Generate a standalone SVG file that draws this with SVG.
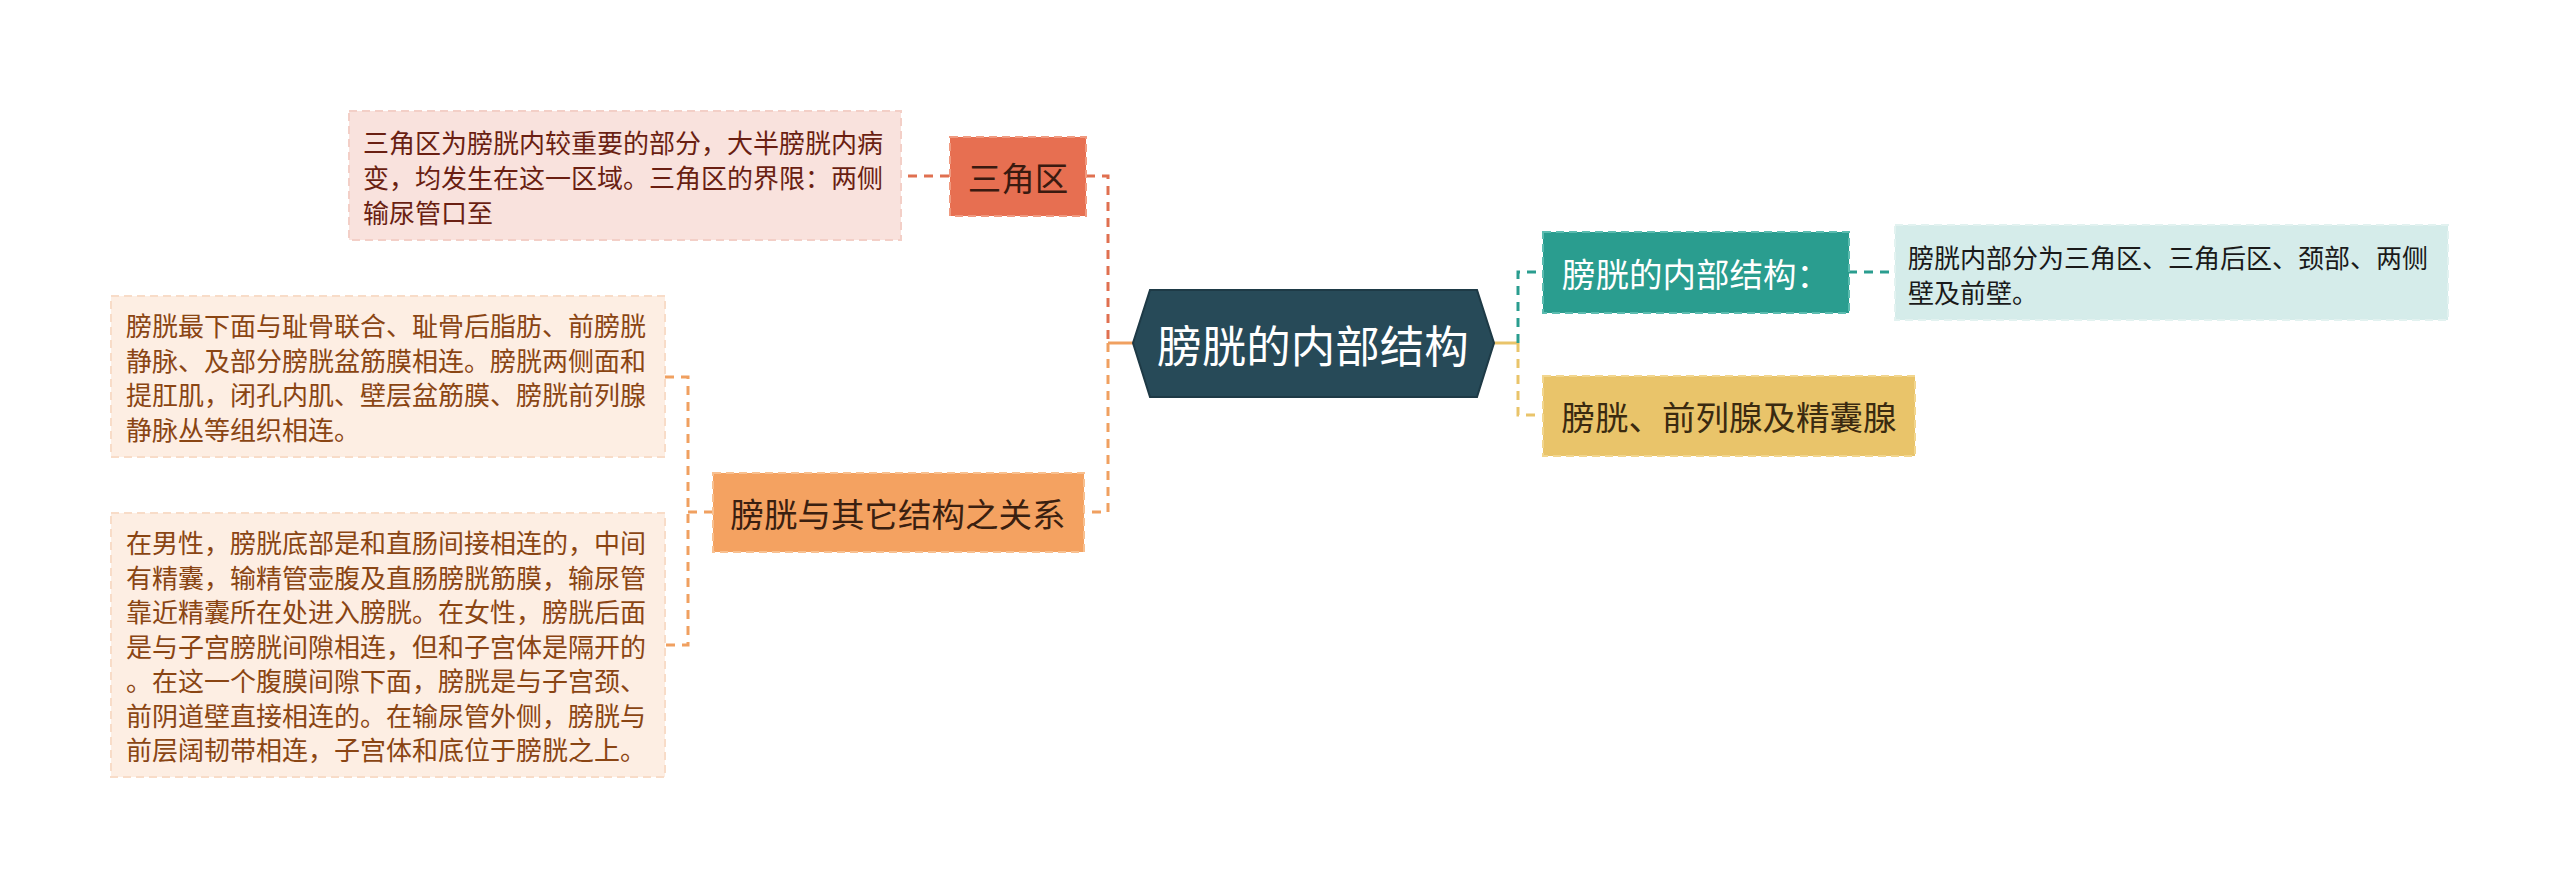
<svg xmlns="http://www.w3.org/2000/svg" width="2560" height="889" viewBox="0 0 2560 889">
<style>
text{font-family:"Noto Sans CJK SC","Noto Sans",sans-serif}
.lbl{font-size:33.5px;text-anchor:middle;dominant-baseline:central}
.desc{font-size:26px;dominant-baseline:central}
.c{fill:none;stroke-width:3;stroke-dasharray:9 7}
.bd{stroke-width:2;stroke-dasharray:8 5}
</style>
<rect width="2560" height="889" fill="#ffffff"/>
<g id="connectors">
<path class="c" stroke="#e07050" d="M1086,176 H1108 V343"/>
<path class="c" stroke="#e07050" d="M949,176 H901"/>
<path class="c" stroke="#f0a060" d="M1108,343 V512 H1084"/>
<path fill="none" stroke="#f0a060" stroke-width="3" d="M1108,343 H1133"/>
<path class="c" stroke="#f0a060" d="M713,512 H688"/>
<path class="c" stroke="#f0a060" d="M665,377 H688 V645 H665"/>
<path fill="none" stroke="#e9c46a" stroke-width="3" d="M1494,343 H1518"/>
<path class="c" stroke="#2a9d8f" d="M1518,343 V272 H1543"/>
<path class="c" stroke="#e9c46a" d="M1518,343 V415 H1543"/>
<path class="c" stroke="#2a9d8f" d="M1848,272 H1895"/>
</g>
<g id="root">
<polygon points="1133,343 1150,290 1477,290 1494,343 1477,397 1150,397" fill="#274a58" stroke="#1e3a46" stroke-width="2"/>
<text x="1313" y="343" font-size="44.5" fill="#ffffff" text-anchor="middle" dominant-baseline="central">膀胱的内部结构</text>
</g>
<g id="n-sanjiaoqu">
<rect class="bd" x="950" y="137" width="136" height="79" fill="#e76f51" stroke="#f09a80"/>
<text class="lbl" x="1018" y="176" fill="#3a1a10">三角区</text>
</g>
<g id="d-sanjiaoqu">
<rect class="bd" x="349" y="111" width="552" height="129" fill="#f9e2dd" stroke="#f3cfc7"/>
<text class="desc" fill="#6a1f12"><tspan x="363" y="141">三角区为膀胱内较重要的部分，大半膀胱内病</tspan><tspan x="363" y="176">变，均发生在这一区域。三角区的界限：两侧</tspan><tspan x="363" y="211">输尿管口至</tspan></text>
</g>
<g id="n-relation">
<rect class="bd" x="713" y="473" width="371" height="79" fill="#f4a261" stroke="#f8c090"/>
<text class="lbl" x="898" y="512" fill="#3a2010">膀胱与其它结构之关系</text>
</g>
<g id="d-relation1">
<rect class="bd" x="111" y="296" width="554" height="161" fill="#fdeee3" stroke="#f8dcc8"/>
<text class="desc" fill="#8a4513"><tspan x="126" y="324">膀胱最下面与耻骨联合、耻骨后脂肪、前膀胱</tspan><tspan x="126" y="358.5">静脉、及部分膀胱盆筋膜相连。膀胱两侧面和</tspan><tspan x="126" y="393">提肛肌，闭孔内肌、壁层盆筋膜、膀胱前列腺</tspan><tspan x="126" y="427.5">静脉丛等组织相连。</tspan></text>
</g>
<g id="d-relation2">
<rect class="bd" x="111" y="513" width="554" height="264" fill="#fdeee3" stroke="#f8dcc8"/>
<text class="desc" fill="#8a4513"><tspan x="126" y="541">在男性，膀胱底部是和直肠间接相连的，中间</tspan><tspan x="126" y="575.5">有精囊，输精管壶腹及直肠膀胱筋膜，输尿管</tspan><tspan x="126" y="610">靠近精囊所在处进入膀胱。在女性，膀胱后面</tspan><tspan x="126" y="644.5">是与子宫膀胱间隙相连，但和子宫体是隔开的</tspan><tspan x="126" y="679">。在这一个腹膜间隙下面，膀胱是与子宫颈、</tspan><tspan x="126" y="713.5">前阴道壁直接相连的。在输尿管外侧，膀胱与</tspan><tspan x="126" y="748">前层阔韧带相连，子宫体和底位于膀胱之上。</tspan></text>
</g>
<g id="n-internal">
<rect class="bd" x="1543" y="232" width="306" height="81" fill="#2a9d8f" stroke="#5cbcb0"/>
<text class="lbl" x="1696" y="272" fill="#ffffff">膀胱的内部结构：</text>
</g>
<g id="d-internal">
<rect class="bd" x="1895" y="225" width="553" height="95" fill="#d5ecea" stroke="#e2f2f0"/>
<text class="desc" fill="#1a1a1a"><tspan x="1908" y="256">膀胱内部分为三角区、三角后区、颈部、两侧</tspan><tspan x="1908" y="290.5">壁及前壁。</tspan></text>
</g>
<g id="n-prostate">
<rect class="bd" x="1543" y="376" width="372" height="80" fill="#e9c46a" stroke="#f2d68e"/>
<text class="lbl" x="1729" y="415" fill="#3a2a10">膀胱、前列腺及精囊腺</text>
</g>
</svg>
